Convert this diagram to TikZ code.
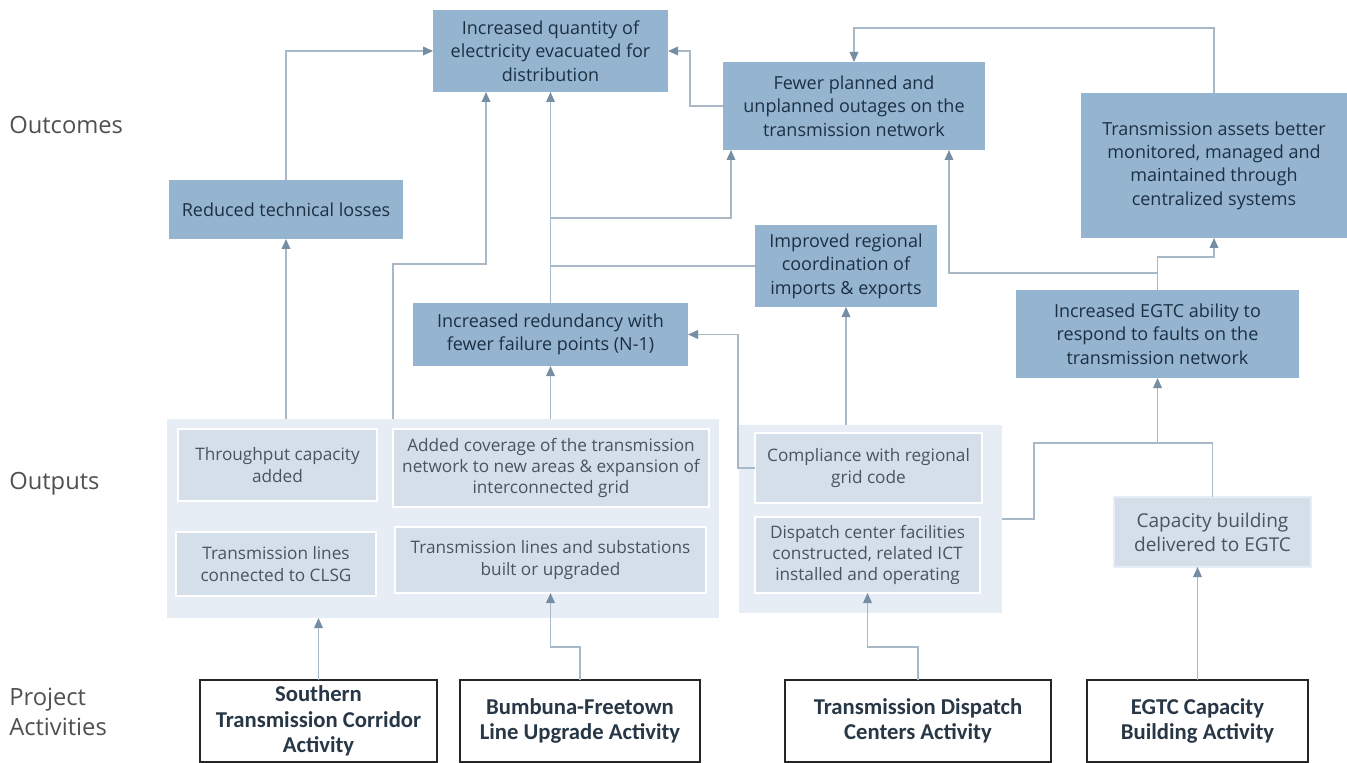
\documentclass[tikz,border=0pt]{standalone}
\usepackage{fontspec}
\setmainfont{Open Sans}
\newfontfamily\actfont{Carlito}
\usetikzlibrary{arrows.meta,calc}
\definecolor{outcomeblue}{RGB}{149,180,208}
\definecolor{outcometext}{RGB}{28,48,68}
\definecolor{groupbg}{RGB}{231,237,244}
\definecolor{outputbg}{RGB}{213,223,234}
\definecolor{outputtext}{RGB}{74,84,94}
\definecolor{linkgray}{RGB}{168,184,199}
\definecolor{tipgray}{RGB}{118,142,164}
\definecolor{labelgray}{RGB}{80,80,80}
\definecolor{acttext}{RGB}{40,55,70}
\begin{document}
\begin{tikzpicture}[x=0.75pt,y=-0.75pt,
        outcome/.style={fill=outcomeblue, text=outcometext, align=center, inner sep=0pt, outer sep=0pt, font=\fontsize{13.5}{17.5}\selectfont},
        output/.style={fill=outputbg, draw=white, line width=0.8pt, text=outputtext, align=center, inner sep=0pt, outer sep=0pt, font=\fontsize{12.9}{16}\selectfont},
        group/.style={fill=groupbg, inner sep=0pt, outer sep=0pt},
        activity/.style={draw=black!85, line width=1.3pt, fill=white, text=acttext, align=center, inner sep=0pt, outer sep=0pt, font=\actfont\bfseries\fontsize{17}{19}\selectfont},
        sidelabel/.style={text=labelgray, anchor=west, align=left, inner sep=0pt, font=\fontsize{17.8}{22.5}\selectfont},
        link/.style={draw=linkgray, line width=1pt},
        arr/.style={link, -{Triangle[length=7.5pt,width=6.5pt,color=tipgray]}}]
                \useasboundingbox (0,0) rectangle (1347,763);

                \node[sidelabel] (outcomes) at (9,125) {Outcomes};
                \node[sidelabel] (outputs) at (9,484) {Outputs};
                \node[sidelabel] (activities) at (9,712) {Project\\Activities};

                \node[outcome, minimum width=176.25pt, minimum height=61.5pt] (qty) at (550.5,51) {Increased quantity of\\electricity evacuated for\\distribution};
                \node[outcome, minimum width=196.5pt, minimum height=66pt] (few) at (854,106) {Fewer planned and\\unplanned outages on the\\transmission network};
                \node[outcome, minimum width=199.5pt, minimum height=108.75pt] (assets) at (1214,165.5) {Transmission assets better\\monitored, managed and\\maintained through\\centralized systems};
                \node[outcome, minimum width=175.5pt, minimum height=44.25pt] (losses) at (286,209.5) {Reduced technical losses};
                \node[outcome, minimum width=136.5pt, minimum height=61.5pt] (regional) at (846,266) {Improved regional\\coordination of\\imports \& exports};
                \node[outcome, minimum width=206.25pt, minimum height=47.25pt] (red) at (550.5,334.5) {Increased redundancy with\\fewer failure points (N-1)};
                \node[outcome, minimum width=212.25pt, minimum height=66pt] (egtc) at (1157.5,334) {Increased EGTC ability to\\respond to faults on the\\transmission network};

                \node[group, minimum width=414pt, minimum height=149.25pt] (grp1) at (443,518.5) {};
                \node[group, minimum width=197.25pt, minimum height=141pt] (grp2) at (870.5,519) {};

                \node[output, minimum width=149.25pt, minimum height=54pt] (thru) at (277.5,465) {Throughput capacity\\added};
                \node[output, minimum width=237pt, minimum height=58.5pt] (cover) at (551,468) {Added coverage of the transmission\\network to new areas \& expansion of\\interconnected grid};
                \node[output, minimum width=150pt, minimum height=48pt] (clsg) at (276,564) {Transmission lines\\connected to CLSG};
                \node[output, minimum width=233.25pt, minimum height=49.5pt] (lines) at (550.5,560) {Transmission lines and substations\\built or upgraded};
                \node[output, minimum width=170.25pt, minimum height=52.5pt] (grid) at (868.5,468) {Compliance with regional\\grid code};
                \node[output, minimum width=168.75pt, minimum height=57pt] (dispatch) at (867.5,555) {Dispatch center facilities\\constructed, related ICT\\installed and operating};
                \node[output, draw=groupbg, minimum width=147.75pt, minimum height=52.5pt, font=\fontsize{14.3}{18}\selectfont] (capacity) at (1212.5,532) {Capacity building\\delivered to EGTC};

                \node[activity, minimum width=177.75pt, minimum height=61.5pt] (act1) at (318.5,721) {Southern\\Transmission Corridor\\Activity};
                \node[activity, minimum width=180pt, minimum height=61.5pt] (act2) at (580,721) {Bumbuna-Freetown\\Line Upgrade Activity};
                \node[activity, minimum width=199.5pt, minimum height=61.5pt] (act3) at (918,721) {Transmission Dispatch\\Centers Activity};
                \node[activity, minimum width=165.75pt, minimum height=61.5pt] (act4) at (1197.5,721) {EGTC Capacity\\Building Activity};

                \draw[arr] (act1.north) -- (act1.north |- grp1.south);
                \draw[arr] (act2.north) -- ++(0,-33) -| (lines.south);
                \draw[arr] (act3.north) -- ++(0,-33) -| (dispatch.south);
                \draw[arr] (act4.north) -- (act4.north |- capacity.south);

                \draw[arr] (losses.south |- grp1.north) -- (losses.south);
                \draw[arr] (cover.west |- grp1.north) -- ++(0,-155) -| ($(qty.south west)+(53,0)$);
                \draw[arr] (red.south |- grp1.north) -- (red.south);
                \draw[arr] (red.north) -- (qty.south);
                \draw[arr] ($(red.north)+(0,-85)$) -| ($(few.south west)+(8,0)$);
                \draw[link] (regional.west) -- (regional.west -| red.north);
                \draw[arr] (regional.south |- grp2.north) -- (regional.south);
                \draw[arr] (grid.west) -- ++(-17,0) |- (red.east);

                \coordinate (j1) at ($(egtc.south)+(0,65)$);
                \coordinate (j2) at ($(egtc.north)+(0,-17)$);
                \draw[link] (grp2.east) -- ++(32,0) |- (j1);
                \draw[link] (capacity.north) |- (j1);
                \draw[arr] (j1) -- (egtc.south);
                \draw[arr] (egtc.north) -- ++(0,-33) -| (assets.south);
                \draw[arr] (j2) -| ($(few.south east)+(-36,0)$);

                \draw[arr] (assets.north) -- ++(0,-65) -| (few.north);
                \draw[arr] (few.west) -- ++(-33,0) |- (qty.east);
                \draw[arr] (losses.north) |- (qty.west);
\end{tikzpicture}
\end{document}
